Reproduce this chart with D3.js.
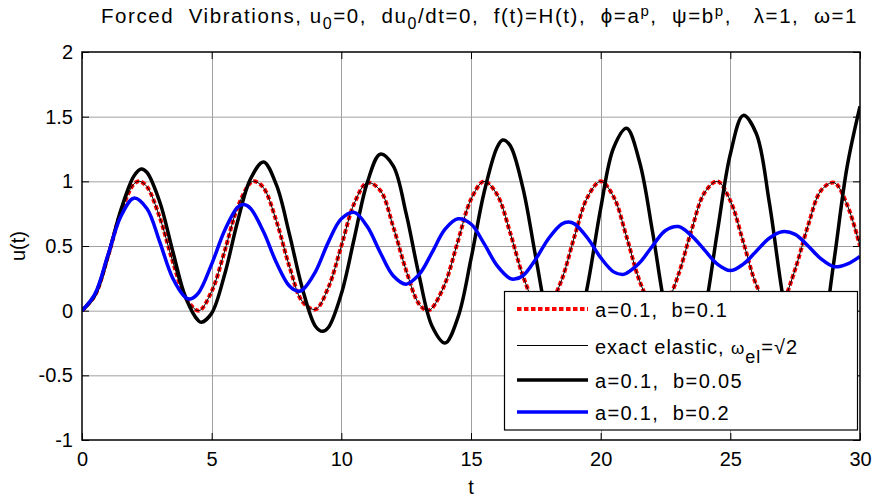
<!DOCTYPE html>
<html>
<head>
<meta charset="utf-8">
<script src="https://cdn.jsdelivr.net/npm/d3@7"></script>
<style>
  html, body { margin: 0; padding: 0; background: #fff; }
  svg { display: block; }
  text { font-family: "Liberation Sans", Arial, Helvetica, sans-serif; fill: #000; white-space: pre; }
</style>
</head>
<body>
<svg id="chart" width="873" height="498"></svg>
<script>
// ---------------- data ----------------
const xTicks = [0, 5, 10, 15, 20, 25, 30];
const yTicks = [-1, -0.5, 0, 0.5, 1, 1.5, 2];
const yTickLabels = ["-1", "-0.5", "0", "0.5", "1", "1.5", "2"];

// a=0.1, b=0.1 (red dotted) and exact elastic (thin black) share the same time samples
const redT = [0,0.5,1,1.5,2,2.22,2.5,3,3.5,4,4.5,5,5.5,6,6.5,6.66,7,7.5,8,8.5,9,9.5,10,10.5,11,11.5,12,12.5,13,13.33,13.5,14,14.5,15,15.5,16,16.5,17,17.5,17.77,18,18.5,19,19.5,20,20.5,21,21.5,22,22.21,22.5,23,23.5,24,24.5,25,25.5,26,26.5,26.66,27,27.5,28,28.5,29,29.5,30];
const redU = [0,0.12,0.42,0.76,0.98,1.0,0.96,0.72,0.38,0.10,0.0,0.15,0.46,0.80,0.99,1.0,0.95,0.69,0.34,0.07,0.01,0.18,0.50,0.83,0.99,0.93,0.65,0.31,0.05,0.0,0.02,0.21,0.54,0.86,1.0,0.90,0.61,0.27,0.04,0.0,0.03,0.24,0.58,0.88,1.0,0.88,0.57,0.23,0.02,0.0,0.04,0.28,0.62,0.91,1.0,0.85,0.53,0.20,0.01,0.0,0.06,0.32,0.66,0.93,0.99,0.82,0.50];
const elasticU = [0,0.12,0.42,0.76,0.98,1.0,0.96,0.72,0.38,0.10,0.0,0.15,0.46,0.80,0.99,1.0,0.95,0.69,0.34,0.07,0.01,0.18,0.50,0.83,0.99,0.93,0.65,0.31,0.05,0.0,0.02,0.21,0.54,0.86,1.0,0.90,0.61,0.27,0.04,0.0,0.03,0.24,0.58,0.88,1.0,0.88,0.57,0.23,0.02,0.0,0.04,0.28,0.62,0.91,1.0,0.85,0.53,0.20,0.01,0.0,0.06,0.32,0.66,0.93,0.99,0.82,0.50];

// a=0.1, b=0.05 (thick black)
const blackT = [0,0.5,1,1.5,2,2.28,2.5,3,3.5,4,4.5,4.61,5,5.5,6,6.5,7,7.5,8,8.5,9,9.27,9.5,10,10.5,11,11.5,12,12.5,13,13.5,14,14.5,15,15.5,16,16.22,16.5,17,17.5,18,18.5,19,19.5,20,20.5,21,21.5,22,22.5,23,23.25,23.5,24,24.5,25,25.5,26,26.5,27,27.5,28,28.5,29,29.5,30];
const blackU = [0,0.12,0.42,0.78,1.04,1.095,1.07,0.84,0.46,0.10,-0.08,-0.09,-0.02,0.28,0.69,1.02,1.15,0.97,0.59,0.17,-0.12,-0.16,-0.13,0.13,0.56,0.99,1.21,1.12,0.75,0.27,-0.12,-0.25,-0.05,0.40,0.91,1.26,1.32,1.28,0.95,0.41,-0.10,-0.35,-0.24,0.20,0.79,1.26,1.41,1.15,0.61,0.00,-0.40,-0.46,-0.41,-0.02,0.61,1.21,1.51,1.37,0.84,0.14,-0.41,-0.58,-0.27,0.39,1.11,1.58];

// a=0.1, b=0.2 (blue)
const blueT = [0,0.5,1,1.5,2,2.5,3,3.5,4,4.17,4.5,5,5.5,6,6.25,6.5,7,7.5,8,8.34,8.5,9,9.5,10,10.5,11,11.5,12,12.5,13,13.5,14,14.5,15,15.5,16,16.5,16.68,17,17.5,18,18.5,18.76,19,19.5,20,20.5,20.85,21,21.5,22,22.5,23,23.5,24,24.5,25,25.5,26,26.5,27,27.5,28,28.5,29,29.5,30];
const blueU = [0,0.13,0.43,0.73,0.87,0.79,0.53,0.25,0.10,0.09,0.14,0.36,0.62,0.80,0.82,0.79,0.61,0.37,0.19,0.15,0.16,0.30,0.53,0.71,0.76,0.65,0.45,0.27,0.205,0.28,0.45,0.63,0.71,0.67,0.52,0.35,0.25,0.244,0.27,0.40,0.56,0.67,0.685,0.67,0.56,0.41,0.30,0.28,0.29,0.37,0.50,0.62,0.65,0.58,0.47,0.36,0.31,0.36,0.46,0.56,0.61,0.59,0.50,0.40,0.34,0.36,0.42];

const legendLabels = ["a=0.1,  b=0.1", "exact elastic, ", "a=0.1,  b=0.05", "a=0.1,  b=0.2"];

// ---------------- drawing ----------------
const svg = d3.select("#chart");
const L = 82, R = 860, T = 52, B = 440;
const x = d3.scaleLinear().domain([0, 30]).range([L, R]);
const y = d3.scaleLinear().domain([-1, 2]).range([B, T]);

svg.append("rect").attr("width", 873).attr("height", 498).attr("fill", "#fff");

// helper: spread a text element to a target width (MATLAB-like wide glyph spacing)
function fitWidth(textSel, target) {
  const node = textSel.node();
  const w = node.getComputedTextLength();
  const n = node.textContent.length;
  if (n > 1) textSel.style("letter-spacing", Math.max(0, (target - w) / n) + "px");
}

// grid
const grid = svg.append("g");
grid.selectAll("line.gy").data(yTicks.filter(v => v > -1 && v < 2)).join("line")
  .attr("x1", L).attr("x2", R).attr("y1", d => y(d) + 0.5).attr("y2", d => y(d) + 0.5)
  .attr("stroke", "#a0a0a0").attr("stroke-width", 1);
grid.selectAll("line.gx").data(xTicks.filter(v => v > 0 && v < 30)).join("line")
  .attr("y1", T).attr("y2", B).attr("x1", d => Math.round(x(d)) + 0.5).attr("x2", d => Math.round(x(d)) + 0.5)
  .attr("stroke", "#a0a0a0").attr("stroke-width", 1);

// axes with inward ticks
const tickLen = 7;
const axB = svg.append("g").attr("transform", `translate(0,${B})`)
  .call(d3.axisBottom(x).tickValues(xTicks).tickSizeInner(-tickLen).tickSizeOuter(0).tickPadding(12));
const axT = svg.append("g").attr("transform", `translate(0,${T})`)
  .call(d3.axisTop(x).tickValues(xTicks).tickSizeInner(-tickLen).tickSizeOuter(0).tickFormat(""));
const axL = svg.append("g").attr("transform", `translate(${L},0)`)
  .call(d3.axisLeft(y).tickValues(yTicks).tickSizeInner(-tickLen).tickSizeOuter(0).tickPadding(9)
    .tickFormat((d, i) => yTickLabels[i]));
const axR = svg.append("g").attr("transform", `translate(${R},0)`)
  .call(d3.axisRight(y).tickValues(yTicks).tickSizeInner(-tickLen).tickSizeOuter(0).tickFormat(""));
[axB, axT, axL, axR].forEach(a => {
  a.select(".domain").remove();
  a.selectAll(".tick line").attr("stroke", "#000").attr("stroke-width", 1);
  a.selectAll("text").attr("font-size", 20).attr("fill", "#000")
    .style("font-family", '"Liberation Sans", Arial, sans-serif');
});

// curves
svg.append("clipPath").attr("id", "clip").append("rect")
  .attr("x", L).attr("y", T).attr("width", R - L).attr("height", B - T);
const plot = svg.append("g").attr("clip-path", "url(#clip)");
const mkLine = (ts) => d3.line().x((d, i) => x(ts[i])).y(d => y(d)).curve(d3.curveCatmullRom.alpha(0.5));

plot.append("path").attr("d", mkLine(redT)(redU)).attr("fill", "none")
  .attr("stroke", "#ff0000").attr("stroke-width", 4).attr("stroke-dasharray", "4.5,2.5");
plot.append("path").attr("d", mkLine(redT)(elasticU)).attr("fill", "none")
  .attr("stroke", "#000").attr("stroke-width", 1);
plot.append("path").attr("d", mkLine(blackT)(blackU)).attr("fill", "none")
  .attr("stroke", "#000").attr("stroke-width", 3.5).attr("stroke-linejoin", "round");
plot.append("path").attr("d", mkLine(blueT)(blueU)).attr("fill", "none")
  .attr("stroke", "#0000ff").attr("stroke-width", 3.5).attr("stroke-linejoin", "round");

// box
svg.append("rect").attr("x", L).attr("y", T).attr("width", R - L).attr("height", B - T)
  .attr("fill", "none").attr("stroke", "#000").attr("stroke-width", 1.5);

// axis labels
svg.append("text").attr("x", (L + R) / 2).attr("y", 494).attr("text-anchor", "middle")
  .attr("font-size", 20).text("t");
svg.append("text").attr("transform", `translate(25,${(T + B) / 2}) rotate(-90)`)
  .attr("text-anchor", "middle").attr("font-size", 20).text("u(t)");

// title
const title = svg.append("text").attr("x", 101).attr("y", 23).attr("text-anchor", "start")
  .attr("font-size", 20.5);
const tparts = [
  ["Forced  Vibrations, u", 0], ["0", 1], ["=0,  du", -1], ["0", 1], ["/dt=0,  f(t)=H(t),  \u03D5=a", -1],
  ["p", 2], [",  \u03C8=b", -2], ["p", 2], [",   \u03BB=1,  \u03C9=1", -2]
];
tparts.forEach(([s, m]) => {
  const ts = title.append("tspan").text(s);
  if (m === 1) ts.attr("dy", 6).attr("font-size", 16);
  if (m === -1) ts.attr("dy", -6);
  if (m === 2) ts.attr("dy", -7).attr("font-size", 15);
  if (m === -2) ts.attr("dy", 7);
});
fitWidth(title, 757);

// legend
const lg = svg.append("g");
lg.append("rect").attr("x", 504.5).attr("y", 291.5).attr("width", 353).attr("height", 138.5)
  .attr("fill", "#fff").attr("stroke", "#000").attr("stroke-width", 1.2);
const rowsY = [309, 345.5, 380, 412];
const rowsW = [133, 203, 148, 135];
const styles = [
  { c: "#ff0000", w: 4, da: "4.5,2.5" },
  { c: "#000", w: 1, da: null },
  { c: "#000", w: 3.5, da: null },
  { c: "#0000ff", w: 3.5, da: null }
];
rowsY.forEach((ry, i) => {
  lg.append("line").attr("x1", 517).attr("x2", 588).attr("y1", ry).attr("y2", ry)
    .attr("stroke", styles[i].c).attr("stroke-width", styles[i].w)
    .attr("stroke-dasharray", styles[i].da);
  const t = lg.append("text").attr("x", 595).attr("y", Math.round(ry) + 8).attr("font-size", 20);
  t.append("tspan").text(legendLabels[i]);
  if (i === 1) {
    t.append("tspan").attr("font-size", 17).text("\u03C9");
    t.append("tspan").attr("dy", 9).attr("font-size", 18).text("el");
    t.append("tspan").attr("dy", -9).text("=\u221A2");
  }
  fitWidth(t, rowsW[i]);
});
</script>
</body>
</html>
